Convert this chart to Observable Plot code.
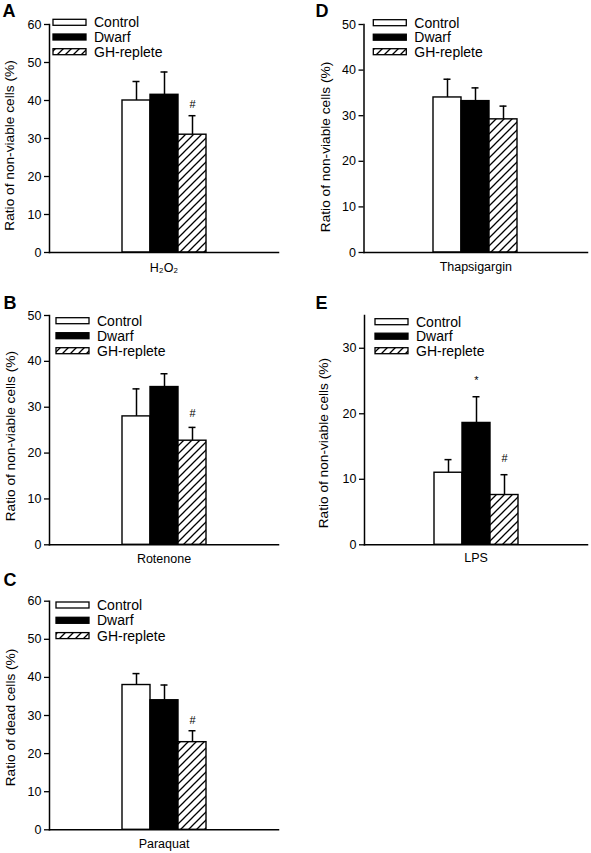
<!DOCTYPE html>
<html>
<head>
<meta charset="utf-8">
<script src="https://cdn.jsdelivr.net/npm/d3@7"></script>
<script src="https://cdn.jsdelivr.net/npm/@observablehq/plot@0.6"></script>
<style>
  html, body { margin: 0; padding: 0; background: white; }
  #root { position: relative; width: 591px; height: 853px; background: white; font-family: "Liberation Sans", Arial, sans-serif; }
  #root svg { position: absolute; }
</style>
</head>
<body>
<div id="root"></div>
<script>
// ---- Data ----
const groups = ["Control", "Dwarf", "GH-replete"];
const panelIds = ["A", "B", "C", "D", "E"];
const stimuli = ["H₂O₂", "Rotenone", "Paraquat", "Thapsigargin", "LPS"];
const yLabels = [
  "Ratio of non-viable cells (%)",
  "Ratio of non-viable cells (%)",
  "Ratio of dead cells (%)",
  "Ratio of non-viable cells (%)",
  "Ratio of non-viable cells (%)"
];
const yMax = [60, 50, 60, 50, 35];
const yTicksA = [0, 10, 20, 30, 40, 50, 60];
const yTicksB = [0, 10, 20, 30, 40, 50];
const yTicksC = [0, 10, 20, 30, 40, 50, 60];
const yTicksD = [0, 10, 20, 30, 40, 50];
const yTicksE = [0, 10, 20, 30];

const meanA = [40, 41.5, 31];
const errA  = [5, 6, 5];
const meanB = [28, 34.4, 22.7];
const errB  = [6, 2.9, 2.9];
const meanC = [38, 34, 23];
const errC  = [3, 4, 3];
const meanD = [34, 33.2, 29.2];
const errD  = [4, 2.9, 2.9];
const meanE = [11, 18.6, 7.6];
const errE  = [2, 4, 3.1];

// significance markers: [group, symbol, y position]
const sigA = [["GH-replete", "#", 39]];
const sigB = [["GH-replete", "#", 28.6]];
const sigC = [["GH-replete", "#", 28.7]];
const sigD = [];
const sigE = [["Dwarf", "*", 25.1], ["GH-replete", "#", 13.2]];

// ---- Layout (styles only) ----
const layouts = [
  {left: 0,   top: 0,   width: 295, height: 280, mL: 49,   mR: 17, mT: 24,   mB: 28,   letter: [2, 4],   legend: [53, 22.3, 14.7], yl: [-39.5, 7],  xl: 15},
  {left: 0,   top: 280, width: 295, height: 290, mL: 49,   mR: 17, mT: 35,   mB: 25.7, letter: [3, 16],  legend: [56, 40.7, 15],   yl: [-39, 6],    xl: 14},
  {left: 0,   top: 570, width: 295, height: 283, mL: 49,   mR: 17, mT: 30.7, mB: 23.7, letter: [3, 3],   legend: [56, 35, 15.3],   yl: [-39, 2],    xl: 14.5},
  {left: 295, top: 0,   width: 296, height: 280, mL: 68.5, mR: 4,  mT: 24,   mB: 28,   letter: [20, 4],  legend: [78.3, 22.7, 14.5], yl: [-38.5, 8.5], xl: 14},
  {left: 295, top: 280, width: 296, height: 290, mL: 69,   mR: 4,  mT: 35,   mB: 25.7, letter: [20, 16], legend: [80, 41.7, 14.5], yl: [-40.5, 13], xl: 13}
];

const means = [meanA, meanB, meanC, meanD, meanE];
const errs = [errA, errB, errC, errD, errE];
const ticks = [yTicksA, yTicksB, yTicksC, yTicksD, yTicksE];
const sigs = [sigA, sigB, sigC, sigD, sigE];

const root = document.getElementById("root");
const font = '"Liberation Sans", Arial, Helvetica, sans-serif';

panelIds.forEach((id, i) => {
  const L = layouts[i];
  const hatchId = "hatch-" + id;
  const data = groups.map((g, j) => ({group: g, value: means[i][j], err: errs[i][j]}));
  const sig = sigs[i].map(([g, s, y]) => ({group: g, symbol: s, y}));

  const svg = Plot.plot({
    width: L.width,
    height: L.height,
    marginLeft: L.mL,
    marginRight: L.mR,
    marginTop: L.mT,
    marginBottom: L.mB,
    style: {fontFamily: font, fontSize: "12px", color: "black", background: "white", overflow: "visible"},
    x: {domain: groups, paddingInner: 0, paddingOuter: 2.45, axis: null},
    y: {domain: [0, yMax[i]], axis: null},
    color: {type: "ordinal", domain: groups, range: ["white", "black", `url(#${hatchId})`]},
    marks: [
      Plot.barY(data, {x: "group", y: "value", fill: "group", stroke: "black", strokeWidth: 1.4}),
      Plot.ruleX(data, {x: "group", y1: "value", y2: d => d.value + d.err, stroke: "black", strokeWidth: 1.5}),
      Plot.tickY(data, {x: "group", y: d => d.value + d.err, stroke: "black", strokeWidth: 1.5, insetLeft: 10.5, insetRight: 10.5}),
      Plot.text(sig, {x: "group", y: "y", text: "symbol", fontSize: 11, fill: "black", lineAnchor: "middle"}),
      Plot.axisY({ticks: ticks[i], tickSize: 5, tickPadding: 3, fontSize: 12.5, label: null, strokeWidth: 1.3}),
      Plot.frame({anchor: "left", stroke: "black", strokeWidth: 1.5}),
      Plot.frame({anchor: "bottom", stroke: "black", strokeWidth: 1.5}),
      Plot.text([stimuli[i]], {frameAnchor: "bottom", lineAnchor: "middle", dy: L.xl, fontSize: 12.5, fill: "black"}),
      Plot.text([yLabels[i]], {frameAnchor: "left", rotate: -90, lineAnchor: "middle", textAnchor: "middle", dx: L.yl[0], dy: L.yl[1], fontSize: 13.7, fill: "black"}),
      Plot.text([id], {frameAnchor: "top-left", textAnchor: "start", lineAnchor: "top", dx: L.letter[0] - L.mL, dy: L.letter[1] - L.mT, fontSize: 18, fontWeight: "bold", fill: "black"})
    ]
  });

  svg.style.left = L.left + "px";
  svg.style.top = L.top + "px";

  const s = d3.select(svg);
  const defs = s.insert("defs", ":first-child");
  const pat = defs.append("pattern")
    .attr("id", hatchId)
    .attr("patternUnits", "userSpaceOnUse")
    .attr("width", 8).attr("height", 8);
  pat.append("rect").attr("width", 8).attr("height", 8).attr("fill", "white");
  pat.append("path")
    .attr("d", "M-2,2 L2,-2 M0,8 L8,0 M6,10 L10,6")
    .attr("stroke", "black").attr("stroke-width", 1.3).attr("fill", "none");

  // legend
  const [lx, ly, lstep] = L.legend;
  const lg = s.append("g").attr("font-family", font).attr("font-size", 14).attr("text-anchor", "start");
  groups.forEach((g, j) => {
    const cy = ly + j * lstep;
    lg.append("rect")
      .attr("x", lx).attr("y", cy - 3).attr("width", 33).attr("height", 6)
      .attr("fill", j === 0 ? "white" : j === 1 ? "black" : `url(#${hatchId})`)
      .attr("stroke", "black").attr("stroke-width", 1.3);
    lg.append("text")
      .attr("x", lx + 41).attr("y", cy).attr("dy", "0.35em")
      .attr("text-anchor", "start")
      .attr("fill", "black").text(g);
  });

  root.appendChild(svg);
});
</script>
</body>
</html>
